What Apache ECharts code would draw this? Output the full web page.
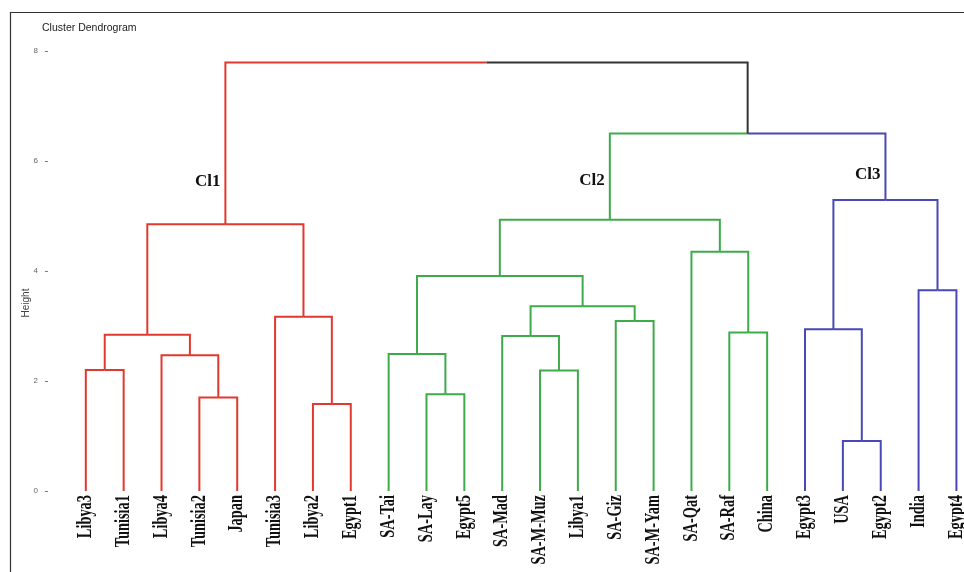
<!DOCTYPE html>
<html>
<head>
<meta charset="utf-8">
<script src="https://cdn.jsdelivr.net/npm/echarts@6/dist/echarts.min.js"></script>
<style>
  html, body { margin: 0; padding: 0; background: #fff; }
  #chart { width: 964px; height: 572px; }
</style>
</head>
<body>
<div id="chart"></div>
<script>
// Leaves in dendrogram order (left to right)
const leaves = ['Libya3', 'Tunisia1', 'Libya4', 'Tunisia2', 'Japan', 'Tunisia3', 'Libya2', 'Egypt1',
  'SA-Tai', 'SA-Lay', 'Egypt5', 'SA-Mad', 'SA-M-Muz', 'Libya1', 'SA-Giz', 'SA-M-Yam',
  'SA-Qat', 'SA-Raf', 'China', 'Egypt3', 'USA', 'Egypt2', 'India', 'Egypt4'];
// Cluster membership of each leaf (1 = Cl1, 2 = Cl2, 3 = Cl3)
const leafCluster = [1, 1, 1, 1, 1, 1, 1, 1, 2, 2, 2, 2, 2, 2, 2, 2, 2, 2, 2, 3, 3, 3, 3, 3];

// Merge table in R style: negative = leaf number, positive = earlier merge number
const mergeLeft   = [-21, -7, -4, -10, -1, -13, -3, -9, -12,  5, -18, -20, -15, -6,  9, -23,  8, -17, 10, 17, 12, 20, 19];
const mergeRight  = [-22, -8, -5, -11, -2, -14,  3,  4,   6,  7, -19,   1, -16,  2, 13, -24, 15,  11, 14, 18, 16, 21, 22];
const mergeHeight = [0.91, 1.58, 1.70, 1.76, 2.20, 2.19, 2.47, 2.49, 2.82, 2.84, 2.88, 2.94, 3.09, 3.17,
  3.36, 3.65, 3.91, 4.35, 4.85, 4.93, 5.29, 6.50, 7.79];

// Cluster labels, the merge they sit beside and their height
const clusterNames = ['Cl1', 'Cl2', 'Cl3'];
const clusterNode = [19, 20, 21];
const clusterLabelHeight = [5.62, 5.64, 5.75];

const yTicks = [0, 2, 4, 6, 8];

// 0 = mixed (black), 1..3 = cluster colours
const branchColors = ['#333333', '#e0392f', '#3eab4b', '#4848b6'];

// Resolve every merge into x position, height and colour
const nodeX = [], nodeH = [], nodeColor = [];
function childInfo(ref) {
  if (ref < 0) {
    const i = -ref;
    return { x: i, h: 0, c: leafCluster[i - 1] };
  }
  return { x: nodeX[ref - 1], h: nodeH[ref - 1], c: nodeColor[ref - 1] };
}
const edges = [];
for (let m = 0; m < mergeHeight.length; m++) {
  const a = childInfo(mergeLeft[m]);
  const b = childInfo(mergeRight[m]);
  const x = (a.x + b.x) / 2;
  const h = mergeHeight[m];
  nodeX.push(x);
  nodeH.push(h);
  nodeColor.push(a.c === b.c ? a.c : 0);
  edges.push([a.x, a.h, x, h, a.c]);
  edges.push([b.x, b.h, x, h, b.c]);
}

const clusterLabelData = clusterNames.map((n, k) => [nodeX[clusterNode[k] - 1], clusterLabelHeight[k]]);
const leafData = leaves.map((n, i) => [i + 1, 0]);

const chart = echarts.init(document.getElementById('chart'));
chart.setOption({
  animation: false,
  backgroundColor: '#ffffff',
  grid: { left: 40, right: 0, top: 51, bottom: 81 },
  xAxis: {
    type: 'value', min: -0.21, max: 24.2,
    show: false
  },
  yAxis: {
    type: 'value', min: 0, max: 8, interval: 2,
    axisLine: { show: false },
    axisTick: { show: true, length: 3, lineStyle: { color: '#777', width: 1 } },
    axisLabel: {
      margin: 2, fontSize: 8, color: '#666', fontFamily: 'Liberation Sans',
      formatter: v => (yTicks.indexOf(v) >= 0 ? String(v) : '')
    },
    splitLine: { show: false }
  },
  graphic: [
    {
      type: 'rect', silent: true, z: 0,
      shape: { x: 10.5, y: 12.5, width: 1000, height: 600 },
      style: { fill: null, stroke: '#333', lineWidth: 1.2 }
    },
    {
      type: 'text', x: 42, y: 28,
      style: { text: 'Cluster Dendrogram', font: '10.5px "Liberation Sans", Arial, sans-serif', fill: '#222', verticalAlign: 'middle' }
    },
    {
      type: 'text', x: 26, y: 303, rotation: Math.PI / 2,
      style: { text: 'Height', font: '10px "Liberation Sans", Arial, sans-serif', fill: '#444', align: 'center', verticalAlign: 'middle' }
    }
  ],
  series: [
    {
      // dendrogram branches: horizontal run at the parent height, then down to the child
      type: 'custom',
      data: edges,
      encode: { x: [0, 2], y: [1, 3] },
      renderItem: function (params, api) {
        const c = api.coord([api.value(0), api.value(1)]);
        const p = api.coord([api.value(2), api.value(3)]);
        return {
          type: 'polyline',
          shape: { points: [[p[0], p[1]], [c[0], p[1]], [c[0], c[1]]] },
          style: { stroke: branchColors[api.value(4)], lineWidth: 2, fill: null, lineJoin: 'miter' }
        };
      }
    },
    {
      // leaf names, rotated and narrowed
      type: 'custom',
      data: leafData,
      encode: { x: 0, y: 1 },
      renderItem: function (params, api) {
        const pt = api.coord([api.value(0), api.value(1)]);
        return {
          type: 'text',
          x: pt[0], y: pt[1] + 4,
          rotation: Math.PI / 2,
          scaleX: 0.72,
          style: {
            text: leaves[params.dataIndex],
            font: 'bold 20px "Liberation Serif", "Times New Roman", serif',
            fill: '#111', align: 'right', verticalAlign: 'middle'
          }
        };
      }
    },
    {
      // cluster names beside their merges
      type: 'custom',
      data: clusterLabelData,
      encode: { x: 0, y: 1 },
      renderItem: function (params, api) {
        const pt = api.coord([api.value(0), api.value(1)]);
        return {
          type: 'text',
          x: pt[0] - 5, y: pt[1],
          style: {
            text: clusterNames[params.dataIndex],
            font: 'bold 17px "Liberation Serif", "Times New Roman", serif',
            fill: '#111', align: 'right', verticalAlign: 'middle'
          }
        };
      }
    }
  ]
});
</script>
</body>
</html>
